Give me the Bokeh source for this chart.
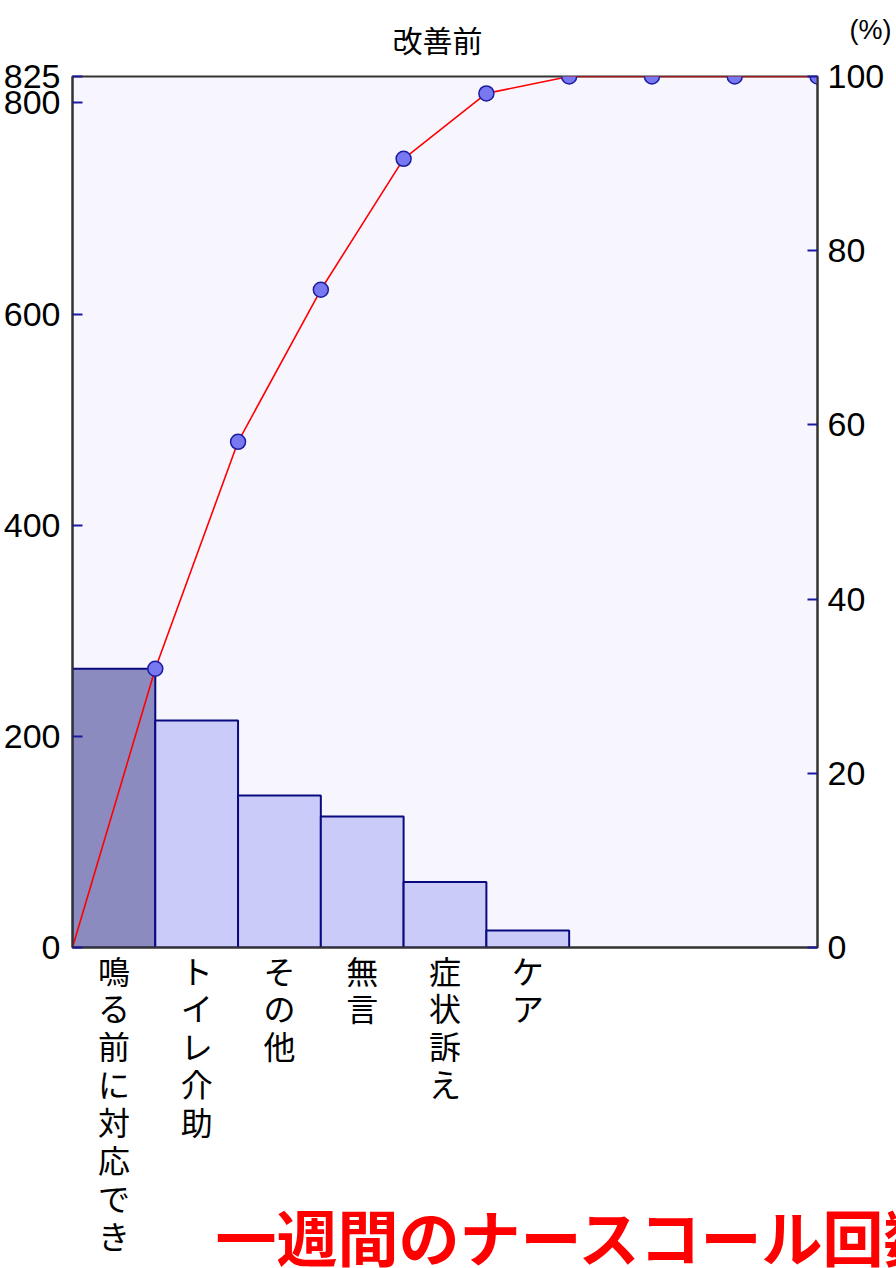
from bokeh.plotting import figure
from bokeh.models import Range1d, LinearAxis, FixedTicker
from bokeh.layouts import column
from bokeh.core.properties import value
from bokeh.embed import file_html
from bokeh.resources import INLINE

# ---- data ----
categories = ["鳴る前に対応でき", "トイレ介助", "その他", "無言", "症状訴え", "ケア", "", "", ""]
counts = [264, 215, 144, 124, 62, 16, 0, 0, 0]
left_ticks = [0, 200, 400, 600, 800, 825]
right_ticks = [0, 20, 40, 60, 80, 100]
title_text = "改善前"
pct_text = "(%)"
caption_text = "一週間のナースコール回数"

total = sum(counts)
n = len(categories)
cum = []
s = 0
for c in counts:
    s += c
    cum.append(s)

NUM_FONT = "Liberation Sans"
JP_FONT = "Noto Sans CJK JP"
W = 896
HDR_H = 66
OVERLAP = 14
MAIN_H = 1202 + OVERLAP
CAP_H = 68

# ---- header (title + unit) ----
hdr = figure(width=W, height=HDR_H, output_backend="svg", toolbar_location=None,
             x_range=Range1d(0, W), y_range=Range1d(0, HDR_H),
             x_axis_location=None, y_axis_location=None, min_border=0, frame_align=False)
hdr.grid.visible = False
hdr.outline_line_color = None
hdr.background_fill_color = "white"
hdr.border_fill_color = "white"
hdr.text(x=[437], y=[28], text=[title_text], text_font=value(JP_FONT), text_font_size="30px",
         text_align="center", text_baseline="middle", text_color="black")
hdr.text(x=[870], y=[37], text=[pct_text], text_font=value(NUM_FONT), text_font_size="27px",
         text_align="center", text_baseline="middle", text_color="black")

# ---- main chart ----
p = figure(width=W, height=MAIN_H, output_backend="svg", toolbar_location=None,
           x_range=Range1d(0, n), y_range=Range1d(0, total), frame_align=False,
           min_border_left=71, min_border_right=79, min_border_top=10 + OVERLAP,
           min_border_bottom=321, margin=(-OVERLAP, 0, 0, 0))
p.extra_y_ranges = {"pct": Range1d(0, 100)}
p.background_fill_color = "#f7f6ff"
p.border_fill_color = None
p.outline_line_color = "#333333"
p.outline_line_width = 2
p.grid.visible = False

# bars
bl, br, bt, fc = [], [], [], []
for i, c in enumerate(counts):
    if c > 0:
        bl.append(i); br.append(i + 1); bt.append(c)
        fc.append("#8b8bbf" if i == 0 else "#cbcbf9")
p.quad(left=bl, right=br, top=bt, bottom=0, fill_color=fc, line_color="#0a0a80", line_width=2)

# cumulative line (Pareto)
lx = [0] + [i + 1 for i in range(n)]
ly = [0] + cum
p.line(lx, ly, line_color="#ff0000", line_width=1.6)
p.scatter(lx[1:], ly[1:], size=15, fill_color="#7878f0", line_color="#1c1ca0", line_width=1.5)

def style_num_axis(ax, standoff):
    ax.major_tick_in = 10
    ax.major_tick_out = 0
    ax.major_tick_line_color = "#1a1aa0"
    ax.major_tick_line_width = 2
    ax.minor_tick_line_color = None
    ax.axis_line_color = "#333333"
    ax.axis_line_width = 2
    ax.major_label_text_font = NUM_FONT
    ax.major_label_text_font_size = "34px"
    ax.major_label_text_color = "black"
    ax.major_label_standoff = standoff

ya = p.yaxis[0]
ya.ticker = FixedTicker(ticks=left_ticks)
style_num_axis(ya, 12)

ra = LinearAxis(y_range_name="pct", ticker=FixedTicker(ticks=right_ticks))
style_num_axis(ra, 10)
p.add_layout(ra, "right")

# bottom axis with stacked (vertical) category labels
xa = p.xaxis[0]
xticks = [i + 0.5 for i in range(n)]
xa.ticker = FixedTicker(ticks=xticks)
xa.major_label_overrides = {t: "\n".join(list(cat)) for t, cat in zip(xticks, categories)}
xa.major_tick_line_color = None
xa.minor_tick_line_color = None
xa.axis_line_color = "#333333"
xa.axis_line_width = 2
xa.major_label_text_font = JP_FONT
xa.major_label_text_font_size = "32px"
xa.major_label_text_line_height = 0.825
xa.major_label_text_color = "black"
xa.major_label_standoff = -7

# ---- red caption overlapping the bottom of the chart ----
cap = figure(width=W, height=CAP_H, output_backend="svg", toolbar_location=None,
             x_range=Range1d(0, W), y_range=Range1d(0, CAP_H),
             x_axis_location=None, y_axis_location=None, min_border=0, frame_align=False,
             margin=(-CAP_H, 0, 0, 0))
cap.grid.visible = False
cap.outline_line_color = None
cap.background_fill_color = None
cap.border_fill_color = None
cap.text(x=[215], y=[33], text=[caption_text], text_font=value(JP_FONT), text_font_size="61px",
         text_font_style="bold", text_align="left", text_baseline="middle", text_color="#ff0000")

layout = column(hdr, p, cap, spacing=0)
open("out.html", "w").write(file_html(layout, INLINE))
